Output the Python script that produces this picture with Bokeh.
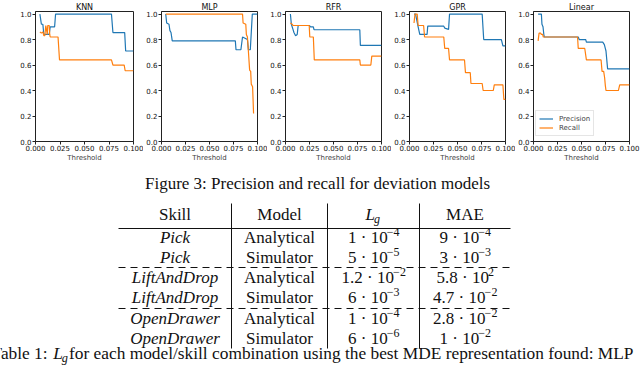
from bokeh.plotting import figure
from bokeh.layouts import row, column
from bokeh.models import Range1d, FixedTicker, NumeralTickFormatter
from bokeh.core.properties import value
from bokeh.embed import file_html
from bokeh.resources import INLINE

# ---------------- data ----------------
panel_titles = ["KNN", "MLP", "RFR", "GPR", "Linear"]
x_ticks = [0.0, 0.025, 0.05, 0.075, 0.1]
y_ticks = [0.0, 0.2, 0.4, 0.6, 0.8, 1.0]

knn_precision_x = [0.0045, 0.006, 0.0075, 0.0085, 0.014, 0.015, 0.0195, 0.0205, 0.0775, 0.079, 0.091, 0.092, 0.1]
knn_precision_y = [1.0, 0.92, 0.92, 0.84, 0.84, 0.90, 0.90, 1.0, 1.0, 0.855, 0.855, 0.71, 0.71]
knn_recall_x = [0.0045, 0.006, 0.0075, 0.0085, 0.0095, 0.0105, 0.012, 0.0125, 0.014, 0.0145, 0.015, 0.023, 0.0245, 0.0775, 0.079, 0.0905, 0.0915, 0.1]
knn_recall_y = [0.86, 0.85, 0.86, 0.83, 0.83, 0.91, 0.84, 0.91, 0.91, 0.84, 0.82, 0.82, 0.64, 0.64, 0.60, 0.60, 0.555, 0.555]

mlp_precision_x = [0.0044, 0.0054, 0.0078, 0.0088, 0.0099, 0.0112, 0.0769, 0.0776, 0.0827, 0.0844, 0.087, 0.0895, 0.0905, 0.0925, 0.0946, 0.1]
mlp_precision_y = [1.0, 0.93, 0.92, 0.87, 0.855, 0.79, 0.79, 0.72, 0.72, 0.82, 0.81, 0.80, 0.72, 0.72, 1.0, 1.0]
mlp_recall_x = [0.0044, 0.0844, 0.085, 0.0878, 0.0884, 0.0895, 0.0905, 0.0918, 0.0929, 0.0935, 0.0949, 0.0959]
mlp_recall_y = [1.0, 1.0, 0.93, 0.92, 0.84, 0.82, 0.71, 0.56, 0.55, 0.45, 0.43, 0.22]

rfr_precision_x = [0.0051, 0.0061, 0.0078, 0.0088, 0.0105, 0.0122, 0.0132, 0.0247, 0.026, 0.029, 0.0297, 0.0774, 0.078, 0.1]
rfr_precision_y = [1.0, 0.92, 0.88, 0.855, 0.83, 0.84, 0.91, 0.91, 0.90, 0.90, 0.877, 0.877, 0.754, 0.754]
rfr_recall_x = [0.0051, 0.007, 0.008, 0.0247, 0.0253, 0.029, 0.030, 0.0774, 0.078, 0.0889, 0.0899, 0.1]
rfr_recall_y = [0.93, 0.92, 0.91, 0.91, 0.82, 0.82, 0.64, 0.64, 0.60, 0.60, 0.67, 0.67]

gpr_precision_x = [0.0047, 0.0063, 0.009, 0.0107, 0.0183, 0.019, 0.0357, 0.0367, 0.0407, 0.0417, 0.0757, 0.0773, 0.0957, 0.0973, 0.1]
gpr_precision_y = [1.0, 1.0, 0.90, 0.84, 0.84, 0.905, 0.905, 0.89, 0.88, 1.0, 1.0, 0.80, 0.80, 0.75, 0.75]
gpr_recall_x = [0.0047, 0.0057, 0.008, 0.009, 0.0147, 0.0157, 0.0357, 0.0367, 0.0407, 0.0417, 0.0573, 0.0583, 0.0633, 0.064, 0.0757, 0.0767, 0.0873, 0.0883, 0.0973, 0.0983, 0.1]
gpr_recall_y = [0.93, 1.0, 1.0, 0.91, 0.91, 0.82, 0.82, 0.73, 0.73, 0.64, 0.64, 0.54, 0.54, 0.455, 0.455, 0.40, 0.40, 0.445, 0.445, 0.33, 0.33]

linear_precision_x = [0.0048, 0.0082, 0.0088, 0.0099, 0.0109, 0.0112, 0.0466, 0.0476, 0.0544, 0.0551, 0.0721, 0.0738, 0.0748, 0.0755, 0.0772, 0.1]
linear_precision_y = [1.0, 1.0, 0.92, 0.90, 0.83, 0.82, 0.82, 0.80, 0.80, 0.78, 0.78, 0.76, 0.73, 0.71, 0.57, 0.57]
linear_recall_x = [0.0048, 0.0058, 0.0075, 0.0082, 0.0095, 0.0102, 0.0459, 0.0466, 0.0534, 0.0551, 0.0704, 0.0714, 0.0731, 0.0741, 0.0748, 0.0755, 0.0884, 0.0898, 0.1]
linear_recall_y = [0.79, 0.85, 0.85, 0.84, 0.84, 0.82, 0.82, 0.73, 0.73, 0.64, 0.64, 0.55, 0.55, 0.50, 0.44, 0.40, 0.40, 0.445, 0.445]

table_skills = ["Pick", "Pick", "LiftAndDrop", "LiftAndDrop", "OpenDrawer", "OpenDrawer"]
table_models = ["Analytical", "Simulator", "Analytical", "Simulator", "Analytical", "Simulator"]
lg_mantissa = ["1", "5", "1.2", "6", "1", "6"]
lg_exponent = ["\u22124", "\u22125", "\u22122", "\u22123", "\u22124", "\u22126"]
mae_mantissa = ["9", "3", "5.8", "4.7", "2.8", "1"]
mae_exponent = ["\u22124", "\u22123", "2", "\u22122", "\u22122", "\u22122"]
figure_caption = "Figure 3: Precision and recall for deviation models"
table_caption_prefix = "Table 1: "
table_caption_suffix = " for each model/skill combination using the best MDE representation found: MLP"

curves = [
    (knn_precision_x, knn_precision_y, knn_recall_x, knn_recall_y),
    (mlp_precision_x, mlp_precision_y, mlp_recall_x, mlp_recall_y),
    (rfr_precision_x, rfr_precision_y, rfr_recall_x, rfr_recall_y),
    (gpr_precision_x, gpr_precision_y, gpr_recall_x, gpr_recall_y),
    (linear_precision_x, linear_precision_y, linear_recall_x, linear_recall_y),
]

# ---------------- layout / style ----------------
panel_widths = [143, 124, 124, 124, 125]
panel_left = [35, 16, 16, 16, 16]
panel_right = [10, 10, 10, 10, 11]
PANEL_H = 164
AX_COL = "#222222"
SANS = "DejaVu Sans"
SERIF = "Liberation Serif"

panels = []
for i, title in enumerate(panel_titles):
    px, py, rx, ry = curves[i]
    p = figure(width=panel_widths[i], height=PANEL_H,
               x_range=Range1d(0, 0.1), y_range=Range1d(0, 1.02),
               output_backend="svg", toolbar_location=None,
               min_border_left=panel_left[i], min_border_right=panel_right[i],
               min_border_top=0, min_border_bottom=20, title=title)
    p.title.align = "center"
    p.title.text_font = SANS
    p.title.text_font_size = "8px"
    p.title.text_font_style = "normal"
    p.title.text_color = "#111111"
    p.title.standoff = 0
    p.grid.visible = False
    p.outline_line_color = AX_COL
    p.outline_line_width = 1
    p.background_fill_color = "white"
    p.border_fill_color = "white"
    for ax in (p.xaxis[0], p.yaxis[0]):
        ax.axis_line_color = AX_COL
        ax.major_tick_line_color = AX_COL
        ax.major_tick_out = 3
        ax.major_tick_in = 0
        ax.minor_tick_line_color = None
        ax.major_label_text_font = SANS
        ax.major_label_text_font_size = "7px"
        ax.major_label_text_color = "#111111"
        ax.major_label_standoff = 1
    p.xaxis.major_label_standoff = 0
    p.xaxis.ticker = FixedTicker(ticks=x_ticks)
    p.xaxis.formatter = NumeralTickFormatter(format="0.000")
    p.yaxis.ticker = FixedTicker(ticks=y_ticks)
    p.yaxis.formatter = NumeralTickFormatter(format="0.0")
    p.xaxis.axis_label = "Threshold"
    p.xaxis.axis_label_text_font = SANS
    p.xaxis.axis_label_text_font_size = "7px"
    p.xaxis.axis_label_text_font_style = "normal"
    p.xaxis.axis_label_standoff = 0
    last = i == len(panel_titles) - 1
    if last:
        p.line(px, py, line_color="#1f77b4", line_width=1.2, legend_label="Precision")
        p.line(rx, ry, line_color="#ff7f0e", line_width=1.2, legend_label="Recall")
        lg = p.legend[0]
        lg.location = (2, 5)
        lg.margin = 0
        lg.padding = 3
        lg.spacing = 0
        lg.glyph_width = 14
        lg.glyph_height = 9
        lg.label_height = 9
        lg.label_standoff = 6
        lg.label_text_font = SANS
        lg.label_text_font_size = "7px"
        lg.border_line_color = "#cccccc"
        lg.border_line_width = 1
        lg.background_fill_alpha = 0.8
    else:
        p.line(px, py, line_color="#1f77b4", line_width=1.2)
        p.line(rx, ry, line_color="#ff7f0e", line_width=1.2)
    panels.append(p)

# ---------------- table / captions ----------------
TW = 640
TH = 366 - PANEL_H
t = figure(width=TW, height=TH, x_range=Range1d(0, 640), y_range=Range1d(366, PANEL_H),
           output_backend="svg", toolbar_location=None,
           x_axis_location=None, y_axis_location=None, min_border=0)
t.grid.visible = False
t.outline_line_color = None

FS = 17
CS = 17.35
ES = 12
txt_col = "#111111"
TIMES = {" ": 0.25, ".": 0.25, "\u00b7": 0.25, "\u2212": 0.564, ":": 0.278,
         "T": 0.611, "a": 0.444, "b": 0.5, "l": 0.278, "e": 0.444}


def tw(s, size):
    return sum(TIMES.get(ch, 0.5) for ch in s) * size


table_left, table_right = 118, 510
vlines_x = [231, 327, 419]
vline_top, vline_bottom = 203, 348
header_y = 214
rule_y = 228
dash_y = [267, 308]
row_y = [237, 257, 277, 297, 318, 338]
col_c = [174.5, 279, 373, 464.5]


def serif_text(xs, ys, texts, size, align="center", style="normal"):
    t.text(x=xs, y=ys, text=texts, text_font=value(SERIF), text_font_size=value(f"{size}px"),
           text_align=align, text_baseline="middle", text_color=txt_col, text_font_style=style)


# figure caption
serif_text([317], [183], [figure_caption], FS)

# header
serif_text([col_c[0], col_c[1], col_c[3]], [header_y] * 3, ["Skill", "Model", "MAE"], FS)
lw_L = 0.556 * FS
serif_text([col_c[2] - 8], [header_y], ["L"], FS, align="left", style="italic")
serif_text([col_c[2] - 8 + lw_L - 1], [header_y + 4], ["g"], ES, align="left", style="italic")

# rules
t.segment(x0=[table_left], y0=[rule_y], x1=[table_right], y1=[rule_y], line_color="#111111", line_width=1)
t.segment(x0=[table_left] * 2, y0=dash_y, x1=[table_right] * 2, y1=dash_y,
          line_color="#111111", line_width=1, line_dash="7 5")
t.segment(x0=vlines_x, y0=[vline_top] * 3, x1=vlines_x, y1=[vline_bottom] * 3,
          line_color="#111111", line_width=1)

# body
serif_text([col_c[0]] * 6, row_y, table_skills, FS, style="italic")
serif_text([col_c[1]] * 6, row_y, table_models, FS)

for c, mants, exps in ((col_c[2], lg_mantissa, lg_exponent), (col_c[3], mae_mantissa, mae_exponent)):
    bx, ex, bt, et = [], [], [], []
    for m, e in zip(mants, exps):
        base = f"{m} \u00b7 10"
        wb = tw(base, FS)
        we = tw(e, ES)
        x0 = c - (wb + we) / 2
        bx.append(x0)
        ex.append(x0 + wb + 0.5)
        bt.append(base)
        et.append(e)
    serif_text(bx, row_y, bt, FS, align="left")
    serif_text(ex, [y - 6 for y in row_y], et, ES, align="left")

# table caption
cap_x0 = -9
cap_y = 353
CES = 12.3
w_pre = tw(table_caption_prefix, CS)
lw_Lc = 0.556 * CS
serif_text([cap_x0], [cap_y], [table_caption_prefix], CS, align="left")
serif_text([cap_x0 + w_pre], [cap_y], ["L"], CS, align="left", style="italic")
serif_text([cap_x0 + w_pre + lw_Lc - 1], [cap_y + 4], ["g"], CES, align="left", style="italic")
serif_text([cap_x0 + w_pre + lw_Lc - 1 + 0.5 * CES + 1], [cap_y], [table_caption_suffix], CS, align="left")

layout = column(row(*panels), t)
open("out.html", "w").write(file_html(layout, INLINE))
